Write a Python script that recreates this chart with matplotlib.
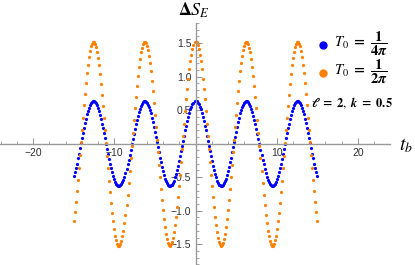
import numpy as np
import matplotlib
matplotlib.use("Agg")
import matplotlib.pyplot as plt
from matplotlib.ticker import MultipleLocator, FixedLocator, FuncFormatter

# sample grid of t_b
t_start, t_stop, t_step = -15.0, 15.0, 0.125
t_b = np.arange(t_start, t_stop + t_step / 2, t_step)

# Delta S_E, T0 = 1/(4 pi)
dS_blue = [
    -0.48, -0.42, -0.36, -0.30, -0.22, -0.15, -0.07, 0.01, 0.09, 0.16, 0.24, 0.31,
    0.37, 0.44, 0.49, 0.53, 0.57, 0.60, 0.62, 0.63, 0.63, 0.62, 0.60, 0.57, 0.53,
    0.49, 0.43, 0.37, 0.30, 0.23, 0.16, 0.08, 0.00, -0.08, -0.15, -0.23, -0.30,
    -0.37, -0.43, -0.48, -0.53, -0.57, -0.60, -0.62, -0.63, -0.63, -0.62, -0.60,
    -0.57, -0.54, -0.49, -0.44, -0.38, -0.31, -0.24, -0.17, -0.09, -0.01, 0.07,
    0.14, 0.22, 0.29, 0.36, 0.42, 0.47, 0.52, 0.56, 0.59, 0.62, 0.63, 0.63, 0.62,
    0.60, 0.58, 0.54, 0.50, 0.45, 0.39, 0.32, 0.25, 0.18, 0.10, 0.02, -0.05, -0.13,
    -0.21, -0.28, -0.35, -0.41, -0.47, -0.52, -0.56, -0.59, -0.61, -0.63, -0.63,
    -0.62, -0.61, -0.58, -0.55, -0.50, -0.45, -0.40, -0.33, -0.26, -0.19, -0.11,
    -0.03, 0.04, 0.12, 0.20, 0.27, 0.34, 0.40, 0.46, 0.51, 0.55, 0.59, 0.61, 0.63,
    0.63,
    0.63, 0.61, 0.59, 0.55, 0.51, 0.46, 0.40, 0.34, 0.27, 0.20, 0.12, 0.04, -0.03,
    -0.11, -0.19, -0.26, -0.33, -0.40, -0.45, -0.50, -0.55, -0.58, -0.61, -0.62,
    -0.63, -0.63, -0.61, -0.59, -0.56, -0.52, -0.47, -0.41, -0.35, -0.28, -0.21,
    -0.13, -0.05, 0.02, 0.10, 0.18, 0.25, 0.32, 0.39, 0.45, 0.50, 0.54, 0.58, 0.60,
    0.62, 0.63, 0.63, 0.62, 0.59, 0.56, 0.52, 0.47, 0.42, 0.36, 0.29, 0.22, 0.14,
    0.07, -0.01, -0.09, -0.17, -0.24, -0.31, -0.38, -0.44, -0.49, -0.54, -0.57,
    -0.60, -0.62, -0.63, -0.63, -0.62, -0.60, -0.57, -0.53, -0.48, -0.43, -0.37,
    -0.30, -0.23, -0.15, -0.08, 0.00, 0.08, 0.16, 0.23, 0.30, 0.37, 0.43, 0.49,
    0.53, 0.57, 0.60, 0.62, 0.63, 0.63, 0.62, 0.60, 0.57, 0.53, 0.49, 0.44, 0.37,
    0.31, 0.24, 0.16, 0.09, 0.01, -0.07, -0.15, -0.22, -0.30, -0.36, -0.42, -0.48,
]

# Delta S_E, T0 = 1/(2 pi)
dS_orange = [
    -1.15, -1.02, -0.87, -0.71, -0.54, -0.36, -0.17, 0.02, 0.21, 0.39, 0.57, 0.74,
    0.90, 1.05, 1.18, 1.29, 1.38, 1.45, 1.49, 1.52, 1.52, 1.49, 1.44, 1.37, 1.28,
    1.17, 1.04, 0.89, 0.73, 0.56, 0.38, 0.20, 0.01, -0.18, -0.37, -0.55, -0.72,
    -0.88, -1.03, -1.16, -1.28, -1.37, -1.44, -1.49, -1.52, -1.52, -1.50, -1.45,
    -1.38, -1.30, -1.19, -1.06, -0.92, -0.76, -0.59, -0.41, -0.22, -0.03, 0.16,
    0.35, 0.53, 0.70, 0.86, 1.01, 1.15, 1.26, 1.36, 1.43, 1.48, 1.51, 1.52, 1.50,
    1.46, 1.39, 1.31, 1.20, 1.08, 0.93, 0.78, 0.61, 0.43, 0.25, 0.06, -0.13, -0.32,
    -0.50, -0.68, -0.84, -0.99, -1.13, -1.25, -1.35, -1.42, -1.48, -1.51, -1.52,
    -1.50, -1.47, -1.40, -1.32, -1.22, -1.09, -0.95, -0.80, -0.63, -0.46, -0.27,
    -0.08, 0.11, 0.30, 0.48, 0.66, 0.82, 0.97, 1.11, 1.23, 1.33, 1.41, 1.47, 1.51,
    1.52,
    1.51, 1.47, 1.41, 1.33, 1.23, 1.11, 0.97, 0.82, 0.66, 0.48, 0.30, 0.11, -0.08,
    -0.27, -0.46, -0.63, -0.80, -0.95, -1.09, -1.22, -1.32, -1.40, -1.47, -1.50,
    -1.52, -1.51, -1.48, -1.42, -1.35, -1.25, -1.13, -0.99, -0.84, -0.68, -0.50,
    -0.32, -0.13, 0.06, 0.25, 0.43, 0.61, 0.78, 0.93, 1.08, 1.20, 1.31, 1.39, 1.46,
    1.50, 1.52, 1.51, 1.48, 1.43, 1.36, 1.26, 1.15, 1.01, 0.86, 0.70, 0.53, 0.35,
    0.16, -0.03, -0.22, -0.41, -0.59, -0.76, -0.92, -1.06, -1.19, -1.30, -1.38,
    -1.45, -1.50, -1.52, -1.52, -1.49, -1.44, -1.37, -1.28, -1.16, -1.03, -0.88,
    -0.72, -0.55, -0.37, -0.18, 0.01, 0.20, 0.38, 0.56, 0.73, 0.89, 1.04, 1.17,
    1.28, 1.37, 1.44, 1.49, 1.52, 1.52, 1.49, 1.45, 1.38, 1.29, 1.18, 1.05, 0.90,
    0.74, 0.57, 0.39, 0.21, 0.02, -0.17, -0.36, -0.54, -0.71, -0.87, -1.02, -1.15,
]

x_major = [-20, -10, 10, 20]
y_major = [-1.5, -1.0, -0.5, 0.5, 1.0, 1.5]

blue = "#0000ff"
orange = "#ff8000"
axis_gray = "#999999"

plt.rcParams["mathtext.fontset"] = "stix"
plt.rcParams["font.family"] = ["Liberation Sans", "DejaVu Sans"]

W, H = 415, 265
fig = plt.figure(figsize=(W / 100, H / 100), dpi=100)
ax = fig.add_axes([0, 0, 390 / W, 242 / H])
ax.patch.set_alpha(0)

ax.plot(t_b, dS_blue, "o", color=blue, markersize=2.3, markeredgewidth=0, clip_on=False)
ax.plot(t_b, dS_orange, "o", color=orange, markersize=2.3, markeredgewidth=0, clip_on=False)

ax.set_xlim(-24.08, 23.95)
ax.set_ylim(-1.81, 1.80)

for side in ["top", "right"]:
    ax.spines[side].set_visible(False)
ax.spines["left"].set_position(("data", 0))
ax.spines["bottom"].set_position(("data", 0))
for side in ["left", "bottom"]:
    ax.spines[side].set_color(axis_gray)
    ax.spines[side].set_linewidth(1.0)

ax.xaxis.set_major_locator(FixedLocator(x_major))
ax.xaxis.set_minor_locator(MultipleLocator(2))
ax.yaxis.set_major_locator(FixedLocator(y_major))
ax.yaxis.set_minor_locator(MultipleLocator(0.1))
ax.xaxis.set_major_formatter(FuncFormatter(lambda v, p: f"{v:.0f}".replace("-", "\u2212")))
ax.yaxis.set_major_formatter(FuncFormatter(lambda v, p: f"{v:.1f}".replace("-", "\u2212")))
ax.tick_params(which="major", direction="in", length=4, width=0.8, color=axis_gray,
               labelsize=7.5, labelcolor="#333333", pad=3)
ax.tick_params(which="minor", direction="in", length=2.5, width=0.6, color=axis_gray)

fig.text(194 / W, 1 - 10 / H, r"$\mathbf{\Delta}\boldsymbol{S_E}$", fontsize=13,
         ha="center", va="center")
fig.text(399 / W, 1 - 146 / H, r"$\boldsymbol{t_b}$", fontsize=14,
         ha="left", va="center")

# legend
fig.add_artist(plt.Line2D([323 / W], [1 - 45 / H], marker="o", color=blue,
                          markersize=6, markeredgewidth=0, linestyle="none"))
fig.add_artist(plt.Line2D([323 / W], [1 - 73 / H], marker="o", color=orange,
                          markersize=6, markeredgewidth=0, linestyle="none"))
fig.text(334 / W, 1 - 44 / H,
         r"$\boldsymbol{T_0}\ \mathbf{=}\ \dfrac{\mathbf{1}}{\mathbf{4}\boldsymbol{\pi}}$",
         fontsize=10.5, ha="left", va="center")
fig.text(334 / W, 1 - 72 / H,
         r"$\boldsymbol{T_0}\ \mathbf{=}\ \dfrac{\mathbf{1}}{\mathbf{2}\boldsymbol{\pi}}$",
         fontsize=10.5, ha="left", va="center")
fig.text(311 / W, 1 - 103 / H,
         r"$\boldsymbol{\ell}\ \mathbf{=}\ \mathbf{2},\ \boldsymbol{k}\ \mathbf{=}\ \mathbf{0.5}$",
         fontsize=9, ha="left", va="center")

fig.savefig("out.png", dpi=100)
